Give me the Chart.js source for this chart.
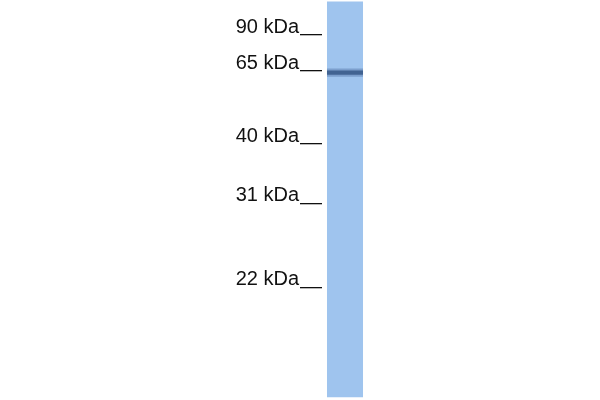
<!DOCTYPE html>
<html>
<head>
<meta charset="utf-8">
<script src="https://cdn.jsdelivr.net/npm/chart.js@4"></script>
<style>
  html, body { margin: 0; padding: 0; background: #fff; }
  #blot { display: block; }
</style>
</head>
<body>
<canvas id="blot" width="600" height="400"></canvas>
<script>
// marker ladder (kDa) and where each one ran, in % of the gel height from the top
const markerSizes = [90, 65, 40, 31, 22];
const markerMigration = [8.75, 17.75, 36.0, 50.9, 71.9];

// one lane, one band
const laneNames = ["lane 1"];
const laneSpan = [[0.4, 99.3]];
const bandHalo = [[17.1, 19.2]];
const bandCore = [[17.6, 18.7]];

const blotCanvas = document.getElementById("blot");

const markerLabel = {};
markerSizes.forEach((kda, i) => {
  markerLabel[markerMigration[i]] = kda + " kDa";
});

const blotChart = new Chart(blotCanvas, {
  type: "bar",
  data: {
    labels: laneNames,
    datasets: [
      {
        data: bandCore,
        backgroundColor: "rgba(55, 88, 135, 0.85)",
        order: 0,
      },
      {
        data: bandHalo,
        backgroundColor: "rgba(95, 130, 178, 0.55)",
        order: 1,
      },
      {
        data: laneSpan,
        backgroundColor: "#9fc4ee",
        order: 2,
      },
    ],
  },
  options: {
    responsive: false,
    animation: false,
    devicePixelRatio: 1,
    layout: { padding: { left: 0, right: 232, top: 0, bottom: 0 } },
    datasets: {
      bar: { grouped: false, categoryPercentage: 1, barPercentage: 0.783, borderWidth: 0 },
    },
    plugins: {
      legend: { display: false },
      tooltip: { enabled: false },
    },
    scales: {
      x: { display: false },
      y: {
        min: 0,
        max: 100,
        reverse: true,
        border: { display: false },
        grid: {
          drawOnChartArea: false,
          drawTicks: true,
          tickLength: 22,
          color: "#111",
          lineWidth: 1.3,
        },
        ticks: {
          padding: 1,
          labelOffset: -8,
          color: "#111",
          font: { family: "Arial, 'Liberation Sans'", size: 20 },
          callback: (value) => markerLabel[value] || "",
        },
        afterBuildTicks: (scale) => {
          scale.ticks = markerMigration.map((v) => ({ value: v }));
        },
        afterFit: (scale) => {
          scale.width = 322;
          scale.paddingTop = 0;
          scale.paddingBottom = 0;
        },
      },
    },
  },
});
</script>
</body>
</html>
